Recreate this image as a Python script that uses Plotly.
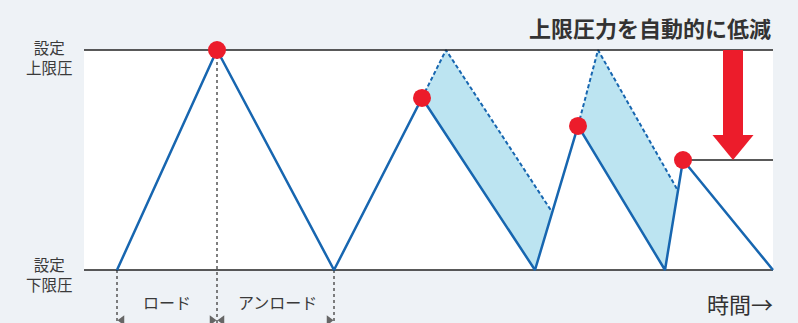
import plotly.graph_objects as go

# ---- data (time in arbitrary units, pressure normalised: 0 = lower limit, 1 = upper limit)
solid_t = [0.0, 1.00, 2.17, 3.05, 4.18, 4.61, 5.48, 5.66, 6.56]
solid_p = [0.0, 1.00, 0.00, 0.782, 0.00, 0.655, 0.00, 0.50, 0.00]

peak_t = [1.00, 3.05, 4.61, 5.66]
peak_p = [1.00, 0.782, 0.655, 0.50]

dash1_t = [3.05, 3.29, 4.35]
dash1_p = [0.782, 1.00, 0.264]
dash2_t = [4.61, 4.81, 5.61]
dash2_p = [0.655, 1.00, 0.36]

fill1_t = [3.05, 3.29, 4.35, 4.18, 3.05]
fill1_p = [0.782, 1.00, 0.264, 0.00, 0.782]
fill2_t = [4.61, 4.81, 5.61, 5.48, 4.61]
fill2_p = [0.655, 1.00, 0.36, 0.00, 0.655]

plot_t0, plot_t1 = -0.33, 6.56
reduced_limit_p = 0.50
reduced_limit_t0 = 5.66

guide_t = [0.0, 1.00, 2.17]
guide_top = [0.0, 1.00, 0.0]

arrow_t = 6.16
arrow_top, arrow_neck, arrow_tip = 1.00, 0.614, 0.50
arrow_shaft_half, arrow_head_half = 0.10, 0.205

title_text = "上限圧力を自動的に低減"
upper_label = "設定<br>上限圧"
lower_label = "設定<br>下限圧"
phase_labels = ["ロード", "アンロード"]
phase_t = [0.50, 1.605]
time_label = "時間→"

BLUE = "#1766b0"
RED = "#ec1c2b"
FILL = "#bce4f1"
BG = "#eef2f6"
TXT = "#3a3a3a"
FONT = "Noto Sans CJK JP"

x_range = [-1.17, 6.81]
y_range = [-0.2409, 1.2273]

fig = go.Figure()

# fills
for ft, fp in [(fill1_t, fill1_p), (fill2_t, fill2_p)]:
    fig.add_trace(go.Scatter(x=ft, y=fp, mode="lines", fill="toself", fillcolor=FILL,
                             line=dict(width=0), hoverinfo="skip"))
# dashed
for dt, dp in [(dash1_t, dash1_p), (dash2_t, dash2_p)]:
    fig.add_trace(go.Scatter(x=dt, y=dp, mode="lines",
                             line=dict(color=BLUE, width=2, dash="4px,2.5px"), hoverinfo="skip"))

# guide dotted verticals
for gt, gtop in zip(guide_t, guide_top):
    fig.add_trace(go.Scatter(x=[gt, gt], y=[gtop, y_range[0]], mode="lines",
                             line=dict(color="#555555", width=1.5, dash="3px,3px"), hoverinfo="skip"))

# limit lines
fig.add_trace(go.Scatter(x=[plot_t0, plot_t1], y=[1, 1], mode="lines",
                         line=dict(color="#222222", width=1.5), hoverinfo="skip"))
fig.add_trace(go.Scatter(x=[plot_t0, plot_t1], y=[0, 0], mode="lines",
                         line=dict(color="#222222", width=1.5), hoverinfo="skip"))
fig.add_trace(go.Scatter(x=[reduced_limit_t0, plot_t1], y=[reduced_limit_p] * 2, mode="lines",
                         line=dict(color="#222222", width=1.5), hoverinfo="skip"))

# solid pressure curve
fig.add_trace(go.Scatter(x=solid_t, y=solid_p, mode="lines",
                         line=dict(color=BLUE, width=2.5), hoverinfo="skip"))

# peaks
fig.add_trace(go.Scatter(x=peak_t, y=peak_p, mode="markers",
                         marker=dict(color=RED, size=18), hoverinfo="skip"))

# small arrowheads of the phase span arrows (cut at the bottom edge)
ah_y = y_range[0] + 0.012
fig.add_trace(go.Scatter(x=[0.05, 0.95], y=[ah_y, ah_y], mode="markers",
                         marker=dict(symbol=["triangle-left", "triangle-right"], color="#666666", size=9),
                         hoverinfo="skip"))
fig.add_trace(go.Scatter(x=[1.05, 2.12], y=[ah_y, ah_y], mode="markers",
                         marker=dict(symbol=["triangle-left", "triangle-right"], color="#666666", size=9),
                         hoverinfo="skip"))

shapes = [
    dict(type="rect", xref="x", yref="y", x0=plot_t0, x1=plot_t1, y0=0, y1=1,
         fillcolor="white", line=dict(width=0), layer="below"),
    dict(type="rect", xref="x", yref="y", x0=arrow_t - arrow_shaft_half, x1=arrow_t + arrow_shaft_half,
         y0=arrow_neck, y1=arrow_top, fillcolor=RED, line=dict(width=0)),
    dict(type="path", xref="x", yref="y",
         path=f"M {arrow_t - arrow_head_half} {arrow_neck} L {arrow_t + arrow_head_half} {arrow_neck} L {arrow_t} {arrow_tip} Z",
         fillcolor=RED, line=dict(width=0)),
]

annotations = [
    dict(text=f"<b>{title_text}</b>", xref="paper", yref="paper", x=773 / 798, y=1 - 27 / 323,
         xanchor="right", yanchor="middle", showarrow=False, font=dict(size=22, color="#333333", family=FONT)),
    dict(text=upper_label, xref="x", yref="y", x=-0.68, y=1, yshift=-7, xanchor="center", yanchor="middle",
         showarrow=False, font=dict(size=15.5, color=TXT, family=FONT), align="center"),
    dict(text=lower_label, xref="x", yref="y", x=-0.68, y=0, yshift=-3.5, xanchor="center", yanchor="middle",
         showarrow=False, font=dict(size=15.5, color=TXT, family=FONT), align="center"),
    dict(text=time_label, xref="paper", yref="paper", x=775 / 798, y=1 - 303 / 323,
         xanchor="right", yanchor="middle", showarrow=False, font=dict(size=22, color="#333333", family=FONT)),
]
for lab, lt in zip(phase_labels, phase_t):
    annotations.append(dict(text=lab, xref="x", yref="paper", x=lt, y=1 - 302 / 323, xanchor="center",
                            yanchor="middle", showarrow=False, font=dict(size=16, color=TXT, family=FONT)))

fig.update_layout(
    width=798, height=323, margin=dict(l=0, r=0, t=0, b=0),
    paper_bgcolor=BG, plot_bgcolor=BG, showlegend=False,
    xaxis=dict(range=x_range, visible=False, fixedrange=True),
    yaxis=dict(range=y_range, visible=False, fixedrange=True),
    shapes=shapes, annotations=annotations,
)

fig.write_html("out.html", config={"displayModeBar": False, "staticPlot": True},
               post_script="document.body.style.margin='0';document.body.style.padding='0';"
                           "document.body.style.overflow='hidden';document.body.style.background='" + BG + "';")
